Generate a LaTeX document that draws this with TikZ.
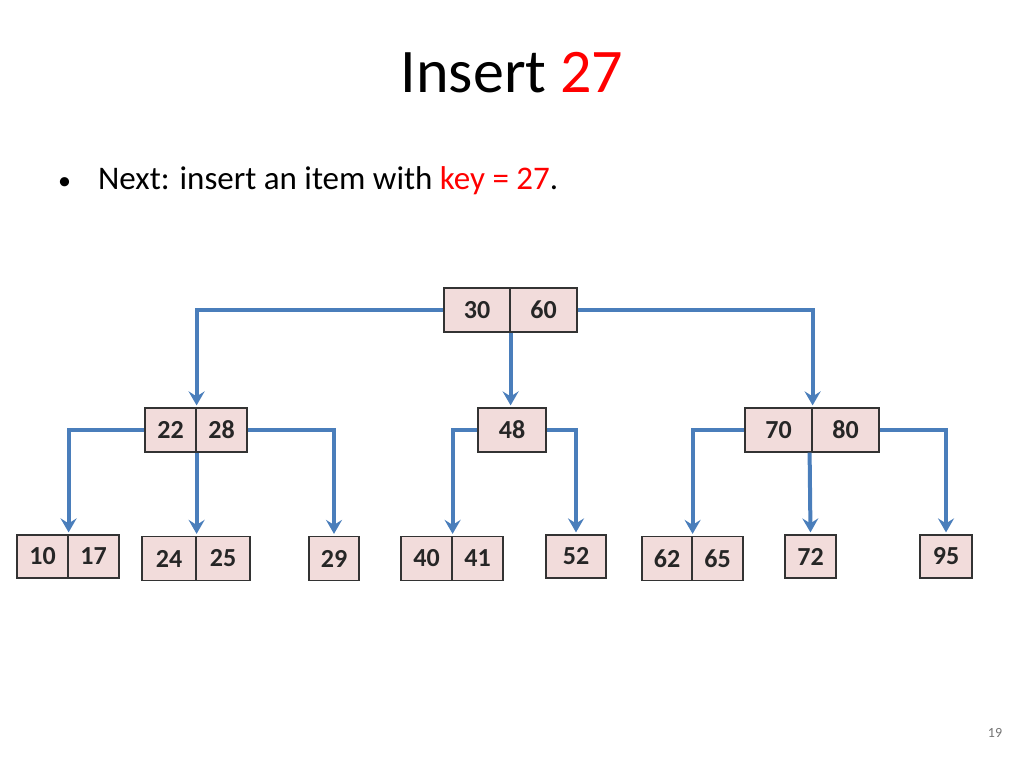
\documentclass[tikz,border=0pt]{standalone}
\usepackage{fontspec}
\setmainfont{Carlito}
\usetikzlibrary{arrows.meta}
\definecolor{boxfill}{HTML}{F2DCDB}
\definecolor{lineblue}{HTML}{4A7EBB}
\begin{document}
\begin{tikzpicture}[x=1pt,y=-1pt,
  cell/.style={draw=black!80,line width=1.2pt,fill=boxfill,minimum height=44pt,inner sep=0pt,font=\fontsize{26}{26}\selectfont\bfseries,text=black!85},
  conn/.style={draw=lineblue,line width=4pt,-{Stealth[length=14pt,width=16pt,inset=5pt]},shorten >=2pt}]
\useasboundingbox (0,0) rectangle (1024,768);
\node[font=\fontsize{62}{62}\selectfont] (title) at (512,73) {Insert \textcolor{red}{27}};
\node[anchor=west,font=\fontsize{33}{33}\selectfont,inner sep=0pt] (bul) at (58,181) {{\fontsize{26}{26}\selectfont\textbullet}\hspace{27pt}Next: insert an item with \textcolor{red}{key = 27}.};
\node[font=\fontsize{14}{14}\selectfont,text=black!55] (pg) at (995,733) {19};
% root
\node[cell,minimum width=66pt] (r30) at (477,310) {30};
\node[cell,minimum width=67pt] (r60) at (543.5,310) {60};
% level 2
\node[cell,minimum width=51pt] (n22) at (170.5,430) {22};
\node[cell,minimum width=51pt] (n28) at (221.5,430) {28};
\node[cell,minimum width=68pt] (n48) at (512,430) {48};
\node[cell,minimum width=67pt] (n70) at (778.5,430) {70};
\node[cell,minimum width=67pt] (n80) at (845.5,430) {80};
% leaves
\node[cell,minimum width=51pt,minimum height=43pt] (l10) at (42.5,556.5) {10};
\node[cell,minimum width=51pt,minimum height=43pt] (l17) at (93.5,556.5) {17};
\node[cell,minimum width=54pt] (l24) at (169,558.5) {24};
\node[cell,minimum width=54pt] (l25) at (223,558.5) {25};
\node[cell,minimum width=50pt] (l29) at (334,558.5) {29};
\node[cell,minimum width=51pt] (l40) at (426.5,558.5) {40};
\node[cell,minimum width=51pt] (l41) at (477.5,558.5) {41};
\node[cell,minimum width=60pt,minimum height=43pt] (l52) at (576,556.5) {52};
\node[cell,minimum width=50pt] (l62) at (667,558.5) {62};
\node[cell,minimum width=51pt] (l65) at (717.5,558.5) {65};
\node[cell,minimum width=51pt,minimum height=43pt] (l72) at (810.5,556.5) {72};
\node[cell,minimum width=52pt,minimum height=43pt] (l95) at (946,556.5) {95};
% connectors
\draw[conn] (r30.west) -| (n22.north east);
\draw[conn] (r30.south east) -- (r30.south east |- n48.north);
\draw[conn] (r60.east) -| (n70.north east);
\draw[conn] (n22.west) -| (l10.north east);
\draw[conn] (n22.south east) -- (l24.north east);
\draw[conn] (n28.east) -| (l29.north);
\draw[conn] (n48.west) -| (l40.north east);
\draw[conn] (n48.east) -| (l52.north);
\draw[conn] (n70.west) -| (l62.north east);
\draw[conn] (n70.south east) ++(-3,0) coordinate (c7) -- (l72.north);
\draw[conn] (n80.east) -| (l95.north);
\end{tikzpicture}
\end{document}
